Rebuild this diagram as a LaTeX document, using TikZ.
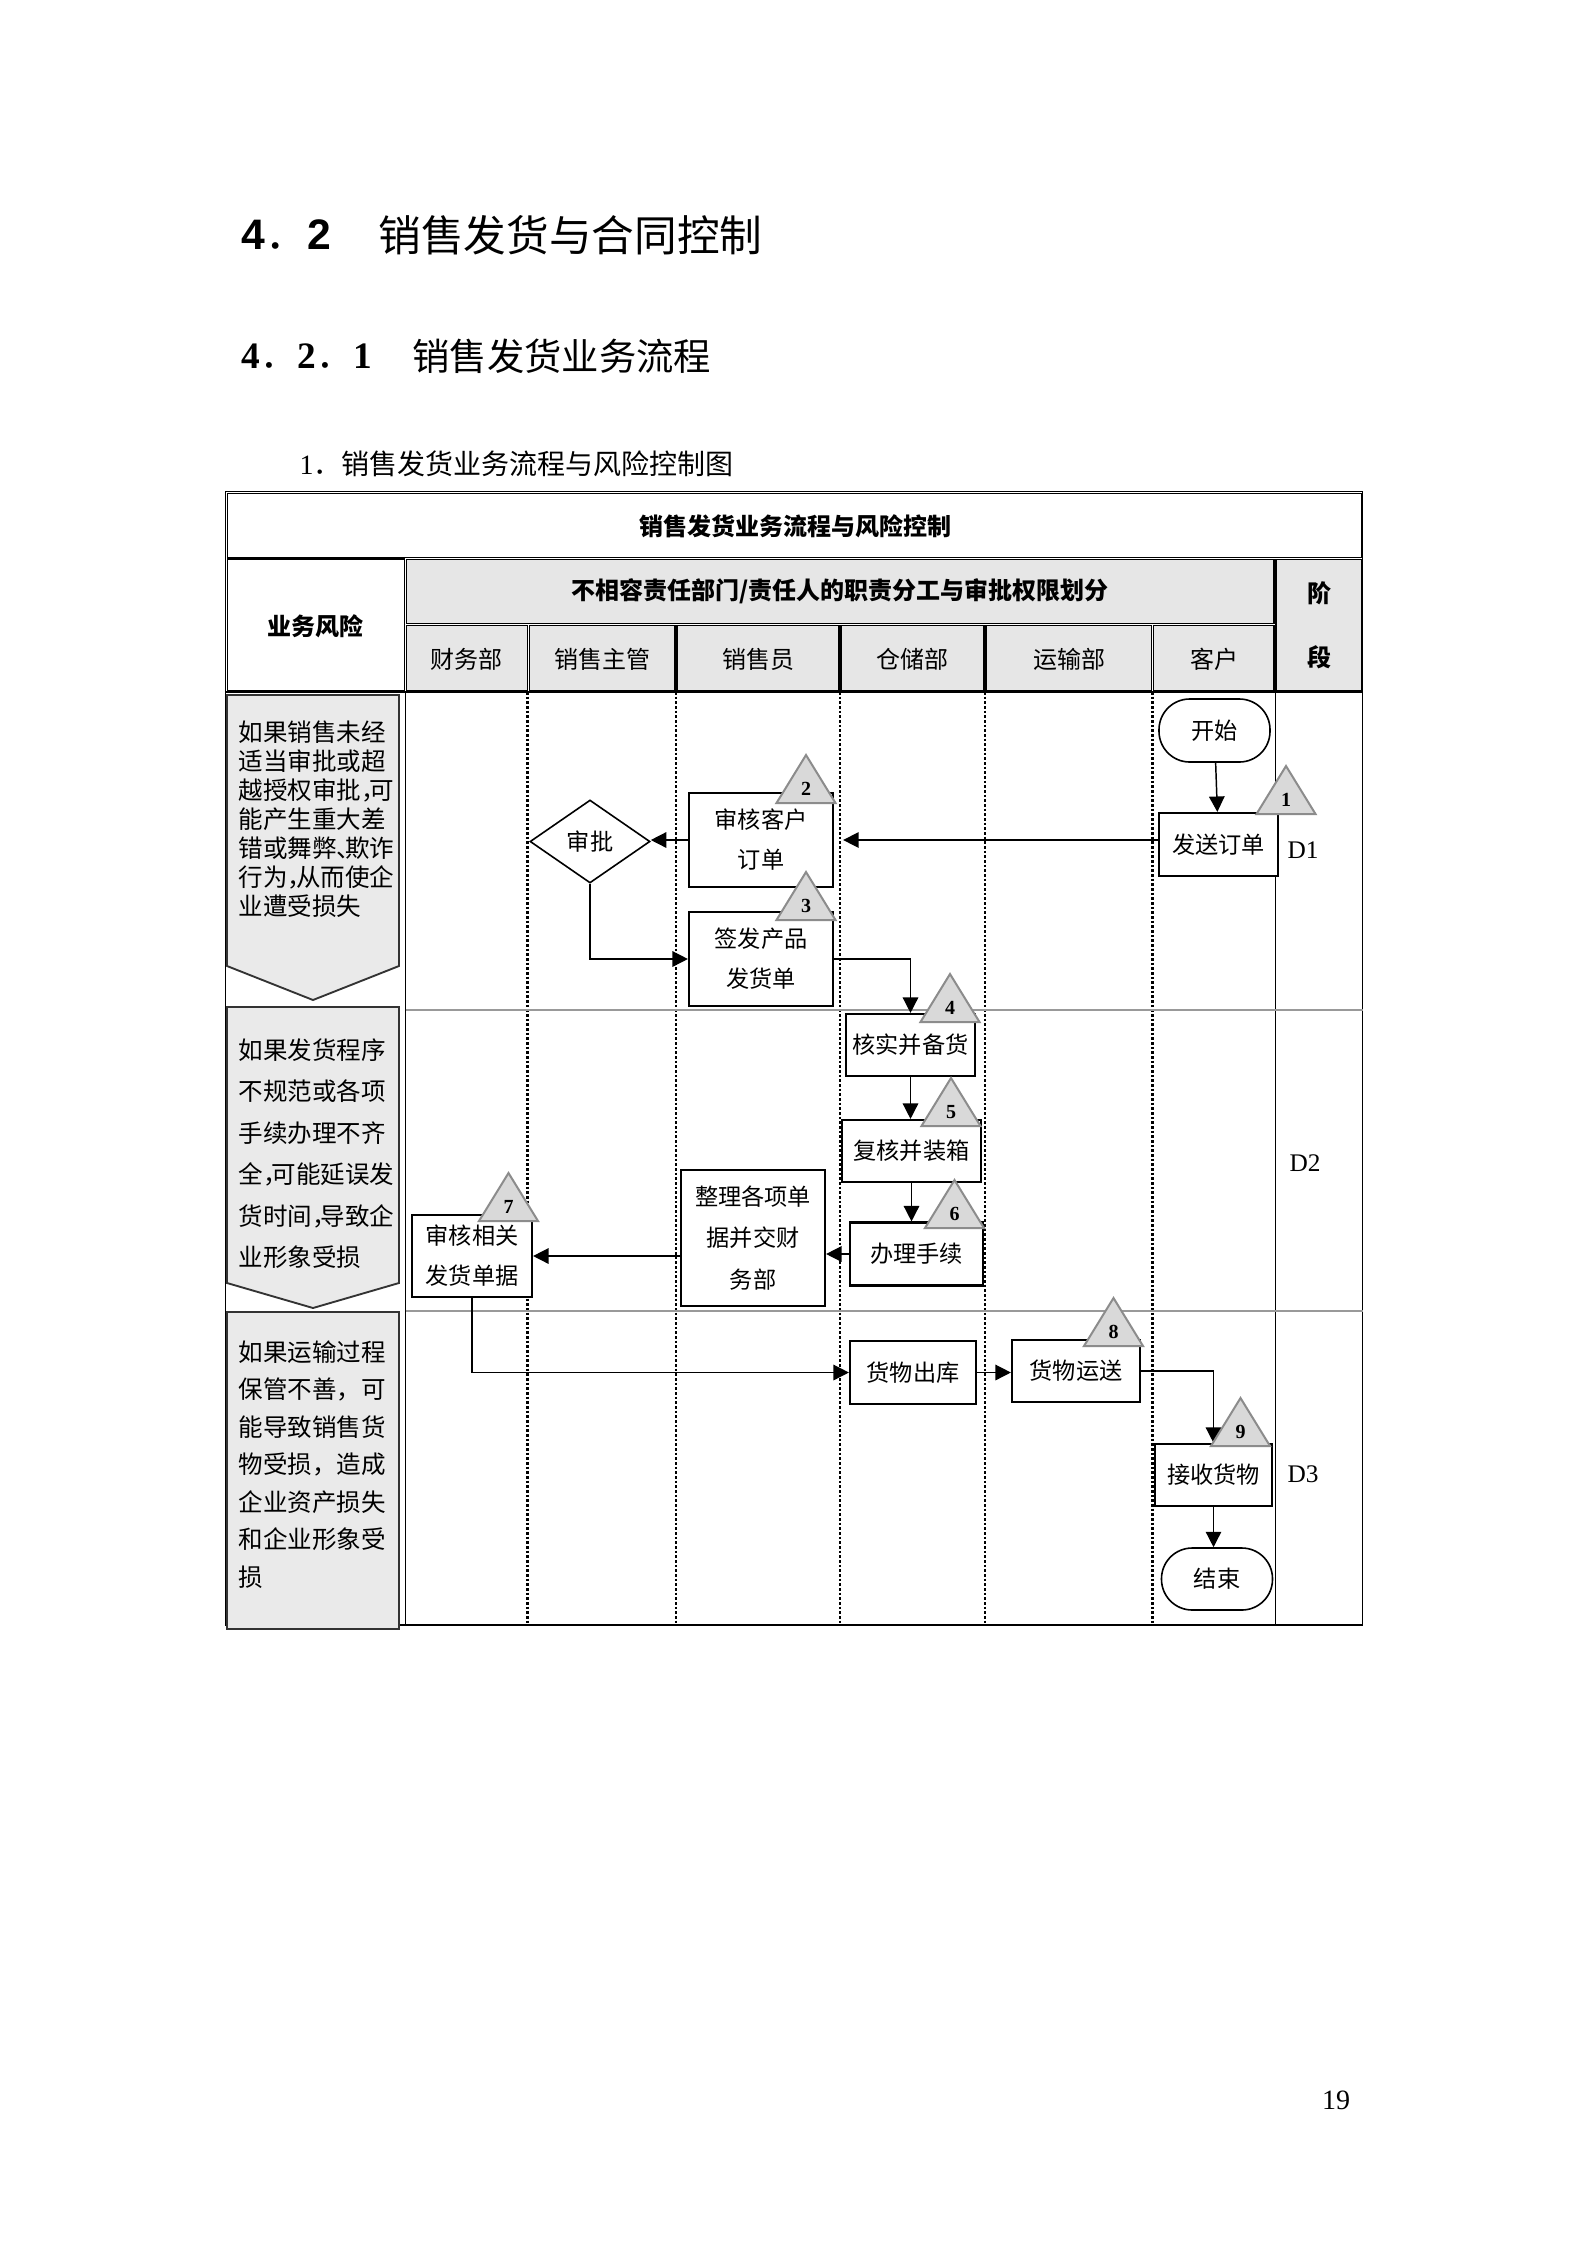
\documentclass[tikz,border=0pt]{standalone}
\usepackage{fontspec}
\setmainfont{Liberation Serif}
\newfontfamily\cjk{Noto Sans CJK SC}
\newfontfamily\lsans{Liberation Sans}
\usetikzlibrary{arrows.meta,shapes.geometric}
\definecolor{hdrgray}{HTML}{E6E6E6}
\definecolor{riskgray}{HTML}{EAEAEA}
\definecolor{trifill}{HTML}{D9D9D9}
\definecolor{triline}{HTML}{8C8C8C}
\definecolor{rowline}{HTML}{999999}
\definecolor{riskline}{HTML}{333333}
\newcommand\hc[1]{\makebox[0.35em][l]{#1}}
\newcommand\ctri[4]{%
  \filldraw[tri] ({#2-29.5},#3) -- (#2,{#3-48}) -- ({#2+29.5},#3) -- cycle;
  \node[trinum] (#1) at (#2,{#3-14}) {#4};}
\begin{document}
\begin{tikzpicture}[x=0.375pt,y=-0.375pt,
  tbl/.style={line width=0.45pt,draw=black},
  sep/.style={line width=1pt,dash pattern=on 1pt off 0.75pt},
  rowsep/.style={draw=rowline,line width=0.55pt},
  riskshape/.style={fill=riskgray,draw=riskline,line width=0.7pt},
  risktext/.style={anchor=west,inner sep=0pt,font=\cjk\fontsize{9.2}{10}\selectfont},
  hdr/.style={inner sep=0pt,font=\cjk\fontsize{9}{10}\selectfont},
  hdrb/.style={inner sep=0pt,font=\cjk\bfseries\fontsize{9}{10}\selectfont},
  box/.style={draw,fill=white,line width=0.8pt,inner sep=0pt,align=center,
    font=\cjk\fontsize{8.7}{15}\selectfont},
  sz/.style 2 args={minimum width=#1*0.375pt,minimum height=#2*0.375pt},
  term/.style={box,line width=0.6pt,rounded corners=11.5pt},
  decision/.style={diamond,draw,fill=white,line width=0.6pt,inner sep=0pt,
    font=\cjk\fontsize{8.7}{10}\selectfont},
  arr/.style={-{Triangle[length=5.8pt,width=5.8pt]},line width=0.55pt},
  tri/.style={fill=trifill,draw=triline,line width=0.75pt},
  trinum/.style={inner sep=0pt,font=\bfseries\fontsize{7.5}{8}\selectfont},
  stage/.style={inner sep=0pt,font=\fontsize{9.5}{10}\selectfont}]
\useasboundingbox (0,0) rectangle (1587,2245);

% headings
\node[anchor=west,inner sep=0pt] (h1n) at (241,235)
  {\lsans\bfseries\fontsize{16}{16}\selectfont 4{\cjk\mdseries ．}2};
\node[anchor=west,inner sep=0pt] (h1t) at (378,235)
  {\cjk\fontsize{16}{16}\selectfont 销售发货与合同控制};
\node[anchor=west,inner sep=0pt] (h2n) at (241,356)
  {\bfseries\fontsize{14}{14}\selectfont 4{\cjk\mdseries ．}2{\cjk\mdseries ．}1};
\node[anchor=west,inner sep=0pt] (h2t) at (412,356)
  {\cjk\fontsize{14}{14}\selectfont 销售发货业务流程};
\node[anchor=west,inner sep=0pt] (h3) at (299,464)
  {\fontsize{10.5}{10.5}\selectfont 1{\cjk ．销售发货业务流程与风险控制图}};

% table frame and header
\draw[tbl] (225.8,491.7) rectangle (1362.8,1625);
\draw[tbl] (227.5,493.3) rectangle (1361.2,557.2);
\draw[tbl] (227.5,558.9) rectangle (404.3,690.3);
\filldraw[tbl,fill=hdrgray] (406.3,559.3) rectangle (1274,623.3);
\foreach \a/\b in {406.3/527.3,529.3/675,677/839,841/984,986/1151.5,1153.5/1274}
  \filldraw[tbl,fill=hdrgray] (\a,625.3) rectangle (\b,690.3);
\filldraw[tbl,fill=hdrgray] (1276,559.3) rectangle (1361.2,690.3);
\draw[tbl] (225.8,692) -- (1362.8,692);
\draw[tbl] (405.5,692) -- (405.5,1625);
\draw[tbl] (1275.5,692) -- (1275.5,1625);

\node[hdrb] (title) at (795,526) {销售发货业务流程与风险控制};
\node[hdrb] (hrisk) at (315,626) {业务风险};
\node[hdrb] (hduty) at (840,591) {不相容责任部门/责任人的职责分工与审批权限划分};
\node[hdrb] (hst1) at (1319,593) {阶};
\node[hdrb] (hst2) at (1319,657) {段};
\node[hdr] (c1) at (466.5,659) {财务部};
\node[hdr] (c2) at (602,659) {销售主管};
\node[hdr] (c3) at (758,659) {销售员};
\node[hdr] (c4) at (912.5,659) {仓储部};
\node[hdr] (c5) at (1069,659) {运输部};
\node[hdr] (c6) at (1214,659) {客户};

% lanes
\foreach \x in {527.7,676,840,985,1152.5}
  \draw[sep] (\x,692) -- (\x,1625);
\draw[rowsep] (405.5,1010) -- (1362.8,1010);
\draw[rowsep] (405.5,1311) -- (1362.8,1311);

% risk column
\draw[riskshape] (227,695) -- (399,695) -- (399,966) -- (313,1000) -- (227,966) -- cycle;
\draw[riskshape] (227,1007) -- (399,1007) -- (399,1283) -- (313,1308) -- (227,1283) -- cycle;
\draw[riskshape] (227,1312) rectangle (399,1629);
\foreach \t [count=\i] in {{如果销售未经},{适当审批或超},{越授权审批\hc{，}可},{能产生重大差},{错或舞弊\hc{、}欺诈},{行为\hc{，}从而使企},{业遭受损失}}
  \node[risktext] (ra\i) at (238,{732+29*(\i-1)}) {\t};
\foreach \t [count=\i] in {{如果发货程序},{不规范或各项},{手续办理不齐},{全\hc{，}可能延误发},{货时间\hc{，}导致企},{业形象受损}}
  \node[risktext] (rb\i) at (238,{1050+41.5*(\i-1)}) {\t};
\foreach \t [count=\i] in {{如果运输过程},{保管不善，可},{能导致销售货},{物受损，造成},{企业资产损失},{和企业形象受},{损}}
  \node[risktext] (rc\i) at (238,{1352+37.5*(\i-1)}) {\t};

% stage labels
\node[stage] (d1) at (1303,850) {D1};
\node[stage] (d2) at (1305,1163) {D2};
\node[stage] (d3) at (1303,1474) {D3};

% flow nodes
\node[term,sz={111}{63}] (start) at (1214.5,730.5) {开始};
\node[box,sz={119}{63}] (send) at (1218.5,844.5) {发送订单};
\node[box,sz={144}{94}] (chk) at (761,840) {审核客户\\订单};
\node[decision,sz={120}{83}] (appr) at (590,841.5) {审批};
\node[box,sz={144}{94}] (issue) at (761,959) {签发产品\\发货单};
\node[box,sz={129}{62}] (verify) at (910.5,1045) {核实并备货};
\node[box,sz={139}{62}] (recheck) at (911.5,1151) {复核并装箱};
\node[box,sz={133}{63}] (proc) at (916.5,1254) {办理手续};
\node[box,sz={144}{136},font=\cjk\fontsize{8.7}{15.5}\selectfont] (sort) at (753,1238) {整理各项单\\据并交财\\务部};
\node[box,sz={120}{82}] (docs) at (472,1256) {审核相关\\发货单据};
\node[box,sz={126}{63}] (out) at (913,1372.5) {货物出库};
\node[box,sz={128}{62}] (ship) at (1076,1371) {货物运送};
\node[box,sz={117}{62}] (recv) at (1213.5,1475) {接收货物};
\node[term,sz={111}{62}] (stop) at (1217,1579) {结束};

% connectors
\draw[arr] (start) -- (send);
\draw[arr,shorten >=3.4pt] (send.west |- chk.east) -- (chk.east);
\draw[arr] (chk.west) -- (chk.west -| appr.east);
\draw[arr] (appr.south) |- (issue.west);
\draw[arr] (issue.east) -| (verify.north);
\draw[arr] (verify.south) -- (verify.south |- recheck.north);
\draw[arr] (recheck.south) -- (recheck.south |- proc.north);
\draw[arr] (proc.west) -- (proc.west -| sort.east);
\draw[arr] (docs.east -| sort.west) -- (docs.east);
\draw[arr] (docs.south) |- (out.west);
\draw[arr] (out.east) -- (out.east -| ship.west);
\draw[arr] (ship.east) -| (recv.north);
\draw[arr] (recv.south) -- (recv.south |- stop.north);

% control point triangles
\ctri{t1}{1286}{814}{1}
\ctri{t2}{806}{803}{2}
\ctri{t3}{806}{920}{3}
\ctri{t4}{950}{1022}{4}
\ctri{t5}{951}{1126}{5}
\ctri{t6}{954.5}{1228}{6}
\ctri{t7}{508.5}{1221}{7}
\ctri{t8}{1113.5}{1346}{8}
\ctri{t9}{1240.5}{1446}{9}

% page number
\node[inner sep=0pt,font=\fontsize{10.5}{11}\selectfont] (pageno) at (1336,2100) {19};
\end{tikzpicture}
\end{document}
